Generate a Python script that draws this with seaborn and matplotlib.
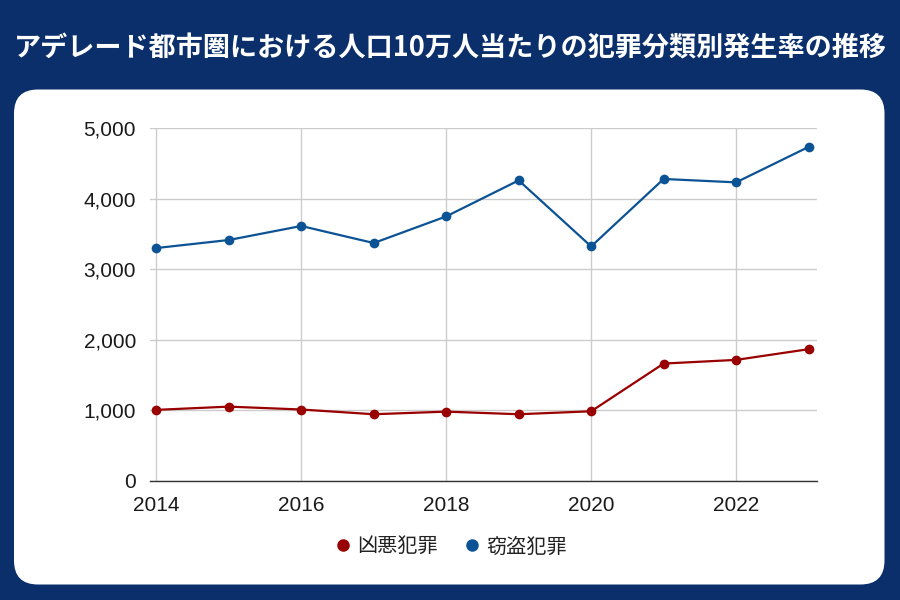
import matplotlib.pyplot as plt
import seaborn as sns
import pandas as pd
from matplotlib.patches import FancyBboxPatch
from matplotlib.ticker import FuncFormatter

# Data
years = [2014, 2015, 2016, 2017, 2018, 2019, 2020, 2021, 2022, 2023]
violent = [1005, 1051, 1010, 943, 980, 943, 985, 1662, 1714, 1866]
theft = [3301, 3415, 3614, 3372, 3750, 4261, 3324, 4281, 4233, 4736]
series_names = ["凶悪犯罪", "窃盗犯罪"]
colors = ["#990000", "#0b5394"]
title = "アデレード都市圏における人口10万人当たりの犯罪分類別発生率の推移"

df = pd.DataFrame({
    "year": years * 2,
    "value": violent + theft,
    "type": [series_names[0]] * len(years) + [series_names[1]] * len(years),
})

sns.set_theme(style="white")
plt.rcParams['font.family'] = ['Liberation Sans', 'Noto Sans CJK JP', 'DejaVu Sans']

navy = "#0b2f6b"
fig = plt.figure(figsize=(9, 6), dpi=100)
fig.patch.set_facecolor(navy)

# background canvas in pixel coords for the white rounded panel
bg = fig.add_axes([0, 0, 1, 1])
bg.set_xlim(0, 900)
bg.set_ylim(600, 0)
bg.axis('off')
bg.add_patch(FancyBboxPatch((14, 89.5), 870.5, 495, boxstyle="round,pad=0,rounding_size=24",
                            facecolor="white", edgecolor="none"))

fig.text(0.5, 1 - 48 / 600, title, ha='center', va='center', color='white',
         fontsize=19.5, fontweight='bold', family=['Noto Sans CJK JP', 'DejaVu Sans'])

ax = fig.add_axes([150 / 900, 1 - 480.7 / 600, 667 / 900, 352.4 / 600])
ax.set_facecolor('none')
sns.lineplot(data=df, x="year", y="value", hue="type", palette=colors, marker='o',
             markersize=7, markeredgewidth=0, linewidth=1.6, ax=ax)

ax.set_xlim(2013.913, 2023.116)
ax.set_ylim(0, 5000)
ax.set_xticks([2014, 2016, 2018, 2020, 2022])
ax.set_yticks([0, 1000, 2000, 3000, 4000, 5000])
ax.yaxis.set_major_formatter(FuncFormatter(lambda v, p: f"{int(v):,}"))
ax.grid(True, color='#cccccc', linewidth=1)
ax.set_axisbelow(True)
for s in ['top', 'right', 'left']:
    ax.spines[s].set_visible(False)
ax.spines['bottom'].set_color('#333333')
ax.spines['bottom'].set_linewidth(1)
ax.tick_params(axis='both', length=0, labelsize=15, labelcolor='#1a1a1a')
ax.tick_params(axis='y', pad=10)
ax.tick_params(axis='x', pad=11)
ax.set_xlabel("")
ax.set_ylabel("")

leg = ax.get_legend()
handles = leg.legend_handles
for h in handles:
    h.set_linestyle('')
    h.set_markersize(9)
ax.legend_.remove()
fig.legend(handles, series_names, loc='center', bbox_to_anchor=(0.5, 1 - 547 / 600),
           ncol=2, frameon=False, handletextpad=0.2, columnspacing=1.2, handlelength=1.0,
           prop={'family': ['Noto Sans CJK JP', 'DejaVu Sans'], 'size': 14.5}, labelcolor='#222222')

fig.savefig("out.png", dpi=100, facecolor=navy)
